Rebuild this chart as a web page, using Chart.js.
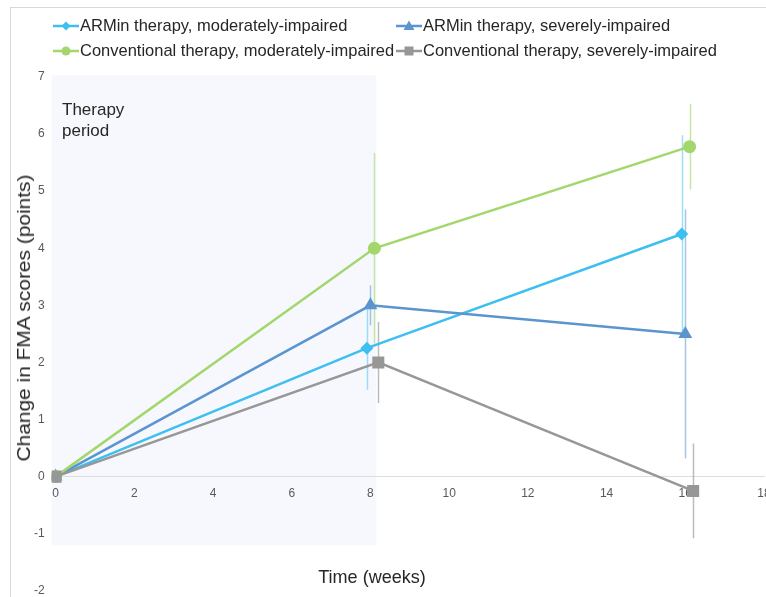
<!DOCTYPE html>
<html>
<head>
<meta charset="utf-8">
<script src="https://cdn.jsdelivr.net/npm/chart.js@4/dist/chart.umd.min.js"></script>
<style>
  html, body { margin: 0; padding: 0; background: #fff; }
  body { width: 766px; height: 597px; overflow: hidden; position: relative;
         font-family: "Liberation Sans", Arial, sans-serif; color: #262626; }
  #frame { position: absolute; left: 10px; top: 7px; width: 800px; height: 620px;
           border-top: 1px solid #d9d9d9; border-left: 1px solid #d9d9d9; }
  #wrap { position: absolute; left: 0; top: 0; width: 790px; height: 605px; }
  .leg { position: absolute; display: flex; align-items: center; white-space: nowrap;
         font-size: 17px; height: 20px; }
  .leg canvas { display: block; margin-right: 1px; }
  .leg span { display: inline-block; transform: scaleX(0.97); transform-origin: left center; }
  #period { position: absolute; left: 62px; top: 99px; font-size: 17px; line-height: 21px; color: #262626; }
  #xtitle { position: absolute; left: 372px; top: 577px; font-size: 19px; white-space: nowrap;
            transform: translate(-50%, -50%) scaleX(0.95); }
  #ytitle { position: absolute; left: 24px; top: 318px; font-size: 19px; white-space: nowrap;
            transform: translate(-50%, -50%) rotate(-90deg) scaleX(1.1); }
</style>
</head>
<body>
<div id="frame"></div>
<div id="wrap"><canvas id="c" width="790" height="605"></canvas></div>
<div id="period">Therapy<br>period</div>
<div id="xtitle">Time (weeks)</div>
<div id="ytitle">Change in FMA scores (points)</div>
<script>
// Series labels
const seriesNames = [
  "ARMin therapy, moderately-impaired",
  "ARMin therapy, severely-impaired",
  "Conventional therapy, moderately-impaired",
  "Conventional therapy, severely-impaired"
];

// Assessment times (weeks); groups are slightly staggered around weeks 8 and 16
const armModWeeks  = [0, 7.91, 15.91];
const armSevWeeks  = [0, 8.0, 16.0];
const convModWeeks = [0, 8.1, 16.11];
const convSevWeeks = [0, 8.2, 16.2];

// Mean change in FMA score (points)
const armModMean  = [0, 2.25, 4.25];
const armSevMean  = [0, 3.0, 2.5];
const convModMean = [0, 4.0, 5.78];
const convSevMean = [0, 2.0, -0.25];

// Error bar half-lengths (points)
const armModErr  = [0, 0.73, 1.73];
const armSevErr  = [0, 0.35, 2.18];
const convModErr = [0, 1.67, 0.75];
const convSevErr = [0, 0.71, 0.83];

// Axis ticks
const xTickStep = 2;
const yTickStep = 1;
const xRange = [-0.1, 18];
const yRange = [-2, 7];

// Therapy period band (weeks, points)
const therapyWeeks = [-0.1, 8.15];
const therapyBand = [-1.2, 7.03];

const styles = [
  { color: "#3dbff0", err: "rgba(61,191,240,0.5)",  point: "rectRot",  radius: 6.5, order: 3 },
  { color: "#5b95cf", err: "rgba(91,149,207,0.55)", point: "triangle", radius: 8,   order: 2 },
  { color: "#a3d76c", err: "rgba(163,215,108,0.6)", point: "circle",   radius: 6.5, order: 1 },
  { color: "#979797", err: "rgba(151,151,151,0.65)", point: "rect",    radius: 8.5, order: 0 }
];

const seriesWeeks = [armModWeeks, armSevWeeks, convModWeeks, convSevWeeks];
const seriesMeans = [armModMean, armSevMean, convModMean, convSevMean];
const seriesErrs  = [armModErr, armSevErr, convModErr, convSevErr];

const datasets = seriesNames.map((name, i) => ({
  label: name,
  data: seriesWeeks[i].map((w, k) => ({ x: w, y: seriesMeans[i][k], err: seriesErrs[i][k] })),
  borderColor: styles[i].color,
  backgroundColor: styles[i].color,
  pointBackgroundColor: styles[i].color,
  pointBorderColor: styles[i].color,
  pointBorderWidth: 0,
  pointStyle: styles[i].point,
  pointRadius: styles[i].radius,
  borderWidth: 2.5,
  tension: 0,
  showLine: true,
  order: styles[i].order,
  errColor: styles[i].err
}));

// Light band marking the therapy period, drawn beneath axes and data
const bandPlugin = {
  id: "therapyBand",
  beforeDraw(chart) {
    const { ctx, scales: { x, y } } = chart;
    const x0 = x.getPixelForValue(therapyWeeks[0]);
    const x1 = x.getPixelForValue(therapyWeeks[1]);
    const y0 = y.getPixelForValue(therapyBand[1]);
    const y1 = y.getPixelForValue(therapyBand[0]);
    ctx.save();
    ctx.fillStyle = "#f7f8fd";
    ctx.fillRect(x0, y0, x1 - x0, y1 - y0);
    ctx.restore();
  }
};

// Vertical error bars for each point
const errorBarPlugin = {
  id: "errorBars",
  beforeDatasetsDraw(chart) {
    const { ctx, scales: { x, y } } = chart;
    ctx.save();
    ctx.lineWidth = 1.5;
    chart.data.datasets.forEach(ds => {
      ds.data.forEach(p => {
        if (!p.err) return;
        const px = Math.round(x.getPixelForValue(p.x)) + 0.5;
        ctx.strokeStyle = ds.errColor;
        ctx.beginPath();
        ctx.moveTo(px, y.getPixelForValue(p.y + p.err));
        ctx.lineTo(px, y.getPixelForValue(p.y - p.err));
        ctx.stroke();
      });
    });
    ctx.restore();
  }
};

new Chart(document.getElementById("c"), {
  type: "scatter",
  data: { datasets },
  plugins: [bandPlugin, errorBarPlugin],
  options: {
    responsive: false,
    animation: false,
    devicePixelRatio: 1,
    layout: { padding: { top: 77, left: 27, right: 26, bottom: 4 } },
    plugins: { legend: { display: false }, tooltip: { enabled: false } },
    scales: {
      x: {
        type: "linear",
        min: xRange[0], max: xRange[1],
        position: { y: 0 },
        grid: { display: false, drawTicks: false },
        border: { display: true, color: "#dedede", width: 1 },
        ticks: { stepSize: xTickStep, includeBounds: false, padding: 10,
                 color: "#595959", font: { family: "Liberation Sans", size: 12 } }
      },
      y: {
        type: "linear",
        min: yRange[0], max: yRange[1],
        grid: { display: false, drawTicks: false },
        border: { display: false },
        ticks: { stepSize: yTickStep, padding: 7,
                 color: "#595959", font: { family: "Liberation Sans", size: 12 } }
      }
    }
  }
});

// Legend: two columns, line-with-marker glyph before each label
const legendPos = [[53, 16], [396, 16], [53, 41], [396, 41]];
seriesNames.forEach((name, i) => {
  const item = document.createElement("div");
  item.className = "leg";
  item.style.left = legendPos[i][0] + "px";
  item.style.top = legendPos[i][1] + "px";
  const ic = document.createElement("canvas");
  ic.width = 26; ic.height = 14;
  const g = ic.getContext("2d");
  const c = styles[i].color;
  g.strokeStyle = c; g.fillStyle = c; g.lineWidth = 2.5;
  g.beginPath(); g.moveTo(0, 7); g.lineTo(26, 7); g.stroke();
  g.beginPath();
  const cx = 13, cy = 7;
  if (styles[i].point === "rectRot") { g.moveTo(cx, cy - 4.5); g.lineTo(cx + 4.5, cy); g.lineTo(cx, cy + 4.5); g.lineTo(cx - 4.5, cy); }
  else if (styles[i].point === "triangle") { g.moveTo(cx, cy - 5.5); g.lineTo(cx + 5.5, cy + 4); g.lineTo(cx - 5.5, cy + 4); }
  else if (styles[i].point === "circle") { g.arc(cx, cy, 4.5, 0, Math.PI * 2); }
  else { g.rect(cx - 4.5, cy - 4.5, 9, 9); }
  g.closePath(); g.fill();
  const t = document.createElement("span");
  t.textContent = name;
  item.appendChild(ic); item.appendChild(t);
  document.body.appendChild(item);
});
</script>
</body>
</html>
